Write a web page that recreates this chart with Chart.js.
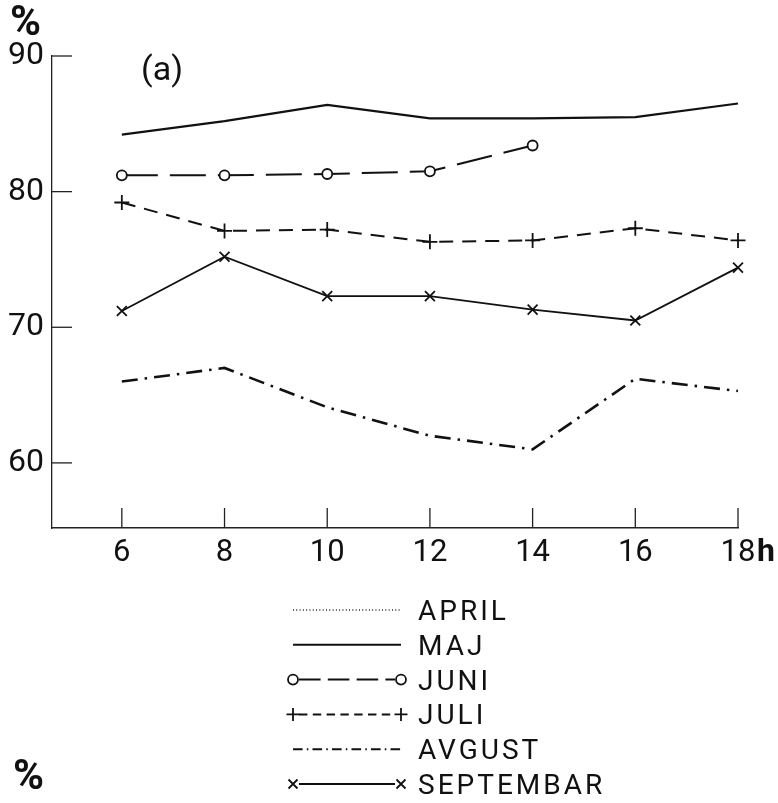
<!DOCTYPE html>
<html><head><meta charset="utf-8">
<script src="https://cdn.jsdelivr.net/npm/chart.js@4"></script>
<style>html,body{margin:0;padding:0;background:#fff}#wrap{width:778px;height:803px;position:relative}</style>
</head><body><div id="wrap"><canvas id="c"></canvas></div>
<script>
// ---- data ----
const hours = [6, 8, 10, 12, 14, 16, 18];
const xTicks = [6, 8, 10, 12, 14, 16, 18];
const yTicks = [60, 70, 80, 90];
const seriesNames = ['APRIL', 'MAJ', 'JUNI', 'JULI', 'AVGUST', 'SEPTEMBAR'];
const april = [];
const maj = [84.2, 85.2, 86.4, 85.4, 85.4, 85.5, 86.5];
const juni = [81.2, 81.2, 81.3, 81.5, 83.4];
const juli = [79.2, 77.1, 77.2, 76.3, 76.4, 77.3, 76.4];
const avgust = [66.0, 67.0, 64.1, 62.0, 61.0, 66.2, 65.3];
const septembar = [71.2, 75.2, 72.3, 72.3, 71.3, 70.5, 74.4];
const xMin = 4.64, xMax = 18, yMin = 55.2, yMax = 90;
const panelLabel = '(a)';
const unitLabel = '%';
const xUnit = 'h';

const FONT = "Roboto, 'Liberation Sans', sans-serif";
const toXY = (vals) => vals.map((v, i) => ({x: hours[i], y: v}));

const styles = [
  {borderDash: [1.5, 4], borderWidth: 1.5, pointStyle: false, marker: null},
  {borderDash: [], borderWidth: 2.2, pointStyle: false, marker: null},
  {borderDash: [36, 12], borderWidth: 2, pointStyle: 'circle', pointRadius: 5, marker: 'circle'},
  {borderDash: [14, 9], borderWidth: 2, pointStyle: 'cross', pointRadius: 7.5, marker: 'plus'},
  {borderDash: [16, 7, 2.5, 7], borderWidth: 2.6, pointStyle: false, marker: null},
  {borderDash: [], borderWidth: 1.8, pointStyle: 'crossRot', pointRadius: 7, marker: 'x'}
];
const seriesValues = [april, maj, juni, juli, avgust, septembar];

const datasets = seriesNames.map((name, i) => {
  const s = styles[i];
  return {
    label: name,
    data: toXY(seriesValues[i]),
    borderColor: '#111',
    backgroundColor: '#fff',
    borderWidth: s.borderWidth,
    borderDash: s.borderDash,
    pointStyle: s.pointStyle,
    pointRadius: s.pointStyle ? s.pointRadius : 0,
    pointBorderWidth: 1.8,
    pointBorderColor: '#111',
    pointBackgroundColor: '#fff',
    tension: 0,
    clip: 12,
    marker: s.marker
  };
});

function drawMarker(ctx, kind, x, y, r) {
  ctx.save();
  ctx.setLineDash([]);
  ctx.lineWidth = 1.8;
  ctx.strokeStyle = '#111';
  ctx.beginPath();
  if (kind === 'circle') {
    ctx.fillStyle = '#fff';
    ctx.arc(x, y, r, 0, Math.PI * 2);
    ctx.fill();
    ctx.stroke();
  } else if (kind === 'plus') {
    ctx.moveTo(x - r, y); ctx.lineTo(x + r, y);
    ctx.moveTo(x, y - r); ctx.lineTo(x, y + r);
    ctx.stroke();
  } else if (kind === 'x') {
    ctx.moveTo(x - r, y - r); ctx.lineTo(x + r, y + r);
    ctx.moveTo(x - r, y + r); ctx.lineTo(x + r, y - r);
    ctx.stroke();
  }
  ctx.restore();
}

const decor = {
  id: 'decor',
  afterDraw(chart) {
    const ctx = chart.ctx;
    const xs = chart.scales.x, ys = chart.scales.y;
    const area = chart.chartArea;
    ctx.save();
    // inward tick marks
    ctx.strokeStyle = '#222';
    ctx.lineWidth = 1.3;
    ctx.setLineDash([]);
    ys.ticks.forEach(t => {
      const py = ys.getPixelForValue(t.value);
      ctx.beginPath(); ctx.moveTo(area.left, py); ctx.lineTo(area.left + 20, py); ctx.stroke();
    });
    xs.ticks.forEach(t => {
      const px = xs.getPixelForValue(t.value);
      ctx.beginPath(); ctx.moveTo(px, area.bottom); ctx.lineTo(px, area.bottom - 20); ctx.stroke();
    });
    // texts
    ctx.fillStyle = '#111';
    ctx.textBaseline = 'middle';
    ctx.textAlign = 'left';
    ctx.font = 'bold 42px ' + FONT;
    ctx.fillText(unitLabel, 10, 24);
    ctx.fillText(unitLabel, 13, 778);
    ctx.font = '34px ' + FONT;
    ctx.fillText(panelLabel, 141, 71);
    // bold unit after last x label
    const lastX = xs.getPixelForValue(xTicks[xTicks.length - 1]);
    ctx.font = 'bold 32px ' + FONT;
    ctx.fillText(xUnit, lastX + 19, 553);
    // legend
    const x0 = 293, x1 = 401, textX = 418, rowY0 = 610, rowStep = 34.8;
    chart.data.datasets.forEach((ds, i) => {
      const y = rowY0 + i * rowStep;
      ctx.save();
      ctx.strokeStyle = '#111';
      ctx.lineWidth = Math.min(ds.borderWidth, 2);
      const dash = ds.borderDash && ds.borderDash.length ? ds.borderDash.map(v => v * 0.6) : [];
      ctx.setLineDash(dash);
      const inset = ds.marker ? 6 : 0;
      ctx.beginPath(); ctx.moveTo(x0 + inset, y); ctx.lineTo(x1 - inset, y); ctx.stroke();
      ctx.restore();
      if (ds.marker) {
        const r = ds.marker === 'circle' ? 5 : (ds.marker === 'plus' ? 6.5 : 4.5);
        drawMarker(ctx, ds.marker, x0, y, r);
        drawMarker(ctx, ds.marker, x1, y, r);
      }
      ctx.save();
      ctx.fillStyle = '#111';
      ctx.font = '28px ' + FONT;
      ctx.letterSpacing = '3px';
      ctx.textBaseline = 'middle';
      ctx.fillText(ds.label, textX, y + 3);
      ctx.restore();
    });
    ctx.restore();
  }
};

new Chart(document.getElementById('c'), {
  type: 'line',
  data: {datasets},
  options: {
    responsive: true,
    maintainAspectRatio: false,
    animation: false,
    events: [],
    layout: {padding: {top: 56, right: 40, left: 0, bottom: 0}},
    plugins: {legend: {display: false}, tooltip: {enabled: false}, title: {display: false}},
    scales: {
      x: {
        type: 'linear', min: xMin, max: xMax,
        afterBuildTicks: s => { s.ticks = xTicks.map(v => ({value: v})); },
        afterFit: s => { s.height = 275; },
        grid: {display: true, drawOnChartArea: false, drawTicks: false},
        border: {display: true, color: '#222', width: 1.4},
        ticks: {color: '#111', font: {family: FONT, size: 31}, padding: 7, maxRotation: 0, autoSkip: false,
                callback: v => String(v)}
      },
      y: {
        type: 'linear', min: yMin, max: yMax,
        afterBuildTicks: s => { s.ticks = yTicks.map(v => ({value: v})); },
        afterFit: s => { s.width = 52; },
        grid: {display: true, drawOnChartArea: false, drawTicks: false},
        border: {display: true, color: '#222', width: 1.3},
        ticks: {color: '#111', font: {family: FONT, size: 32}, padding: 8, callback: v => String(v)}
      }
    }
  },
  plugins: [decor]
});
</script>
</body></html>
